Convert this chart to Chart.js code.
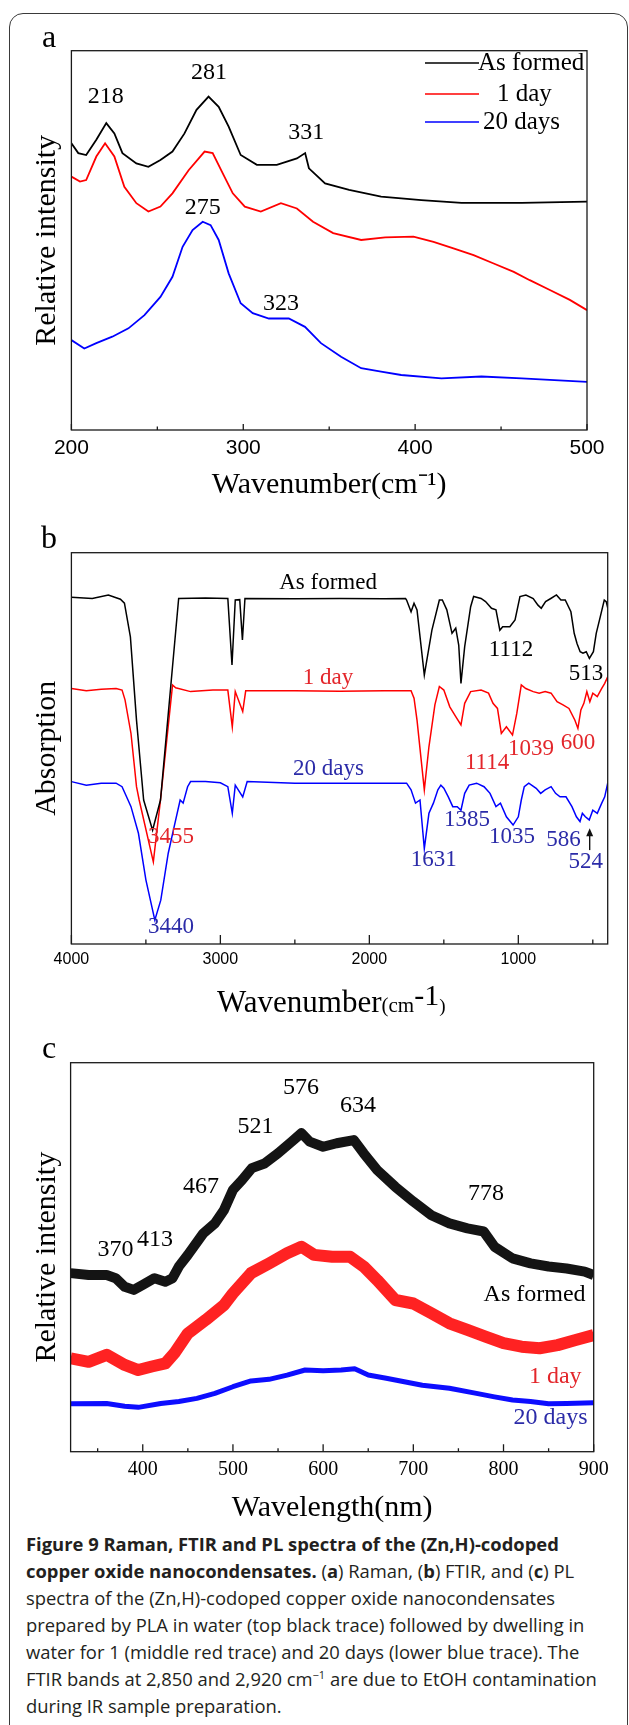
<!DOCTYPE html>
<html><head><meta charset="utf-8">
<script src="https://cdn.jsdelivr.net/npm/chart.js@4.4.1/dist/chart.umd.min.js"></script>
<style>
html,body{margin:0;padding:0;background:#fff;}
body{width:629px;height:1725px;position:relative;overflow:hidden;}
canvas{position:absolute;left:0;}
#frame{position:absolute;left:9px;top:13px;width:619px;height:1760px;border:1.5px solid #3a3a3a;border-radius:14px;box-sizing:border-box;}
.panel{position:absolute;font-family:'Liberation Serif','Times New Roman',serif;font-size:32px;line-height:32px;color:#000;}
.cap{position:absolute;left:26px;font-family:'Open Sans',sans-serif;font-size:18.4px;line-height:18.4px;white-space:nowrap;color:#231f20;}
.cap b{font-weight:700;}
</style></head><body>
<div id="frame"></div>
<canvas id="ca" width="629" height="510" style="top:0;width:629px;height:510px"></canvas>
<canvas id="cb" width="629" height="510" style="top:510px;width:629px;height:510px"></canvas>
<canvas id="cc" width="629" height="510" style="top:1020px;width:629px;height:510px"></canvas>
<div class="panel" style="left:42px;top:20px">a</div>
<div class="panel" style="left:41px;top:521px">b</div>
<div class="panel" style="left:42px;top:1031px">c</div>
<div class="cap" style="top:1535px"><b>Figure 9 Raman, FTIR and PL spectra of the (Zn,H)-codoped</b></div>
<div class="cap" style="top:1562px"><b>copper oxide nanocondensates.</b> (<b>a</b>) Raman, (<b>b</b>) FTIR, and (<b>c</b>) PL</div>
<div class="cap" style="top:1589px">spectra of the (Zn,H)-codoped copper oxide nanocondensates</div>
<div class="cap" style="top:1616px">prepared by PLA in water (top black trace) followed by dwelling in</div>
<div class="cap" style="top:1643px">water for 1 (middle red trace) and 20 days (lower blue trace). The</div>
<div class="cap" style="top:1670px">FTIR bands at 2,850 and 2,920 cm<sup style="font-size:11px;line-height:0">−1</sup> are due to EtOH contamination</div>
<div class="cap" style="top:1697px">during IR sample preparation.</div>
<script>
// ---------- (a) Raman ----------
const ramanBlackX = [200,204,208.6,214.5,220.3,225,229.7,237.8,244.8,251.8,258.8,265.8,272.8,279.8,285.7,291.5,298.5,307.9,319.5,331.2,336,338.2,347.6,361.6,380.2,403.6,427,462,500];
const ramanBlackY = [75.6,73,72.5,76.5,80.9,78.2,73,70.3,69.4,71.2,73.4,78.2,84.4,87.9,85.2,80,72.5,69.9,69.9,71.6,73,69,65,63.3,61.5,60.6,59.9,59.9,60.2];
const ramanRedX = [200,205,208.6,214.5,219.6,225,230.8,237.8,244.8,251.8,258.8,268.2,277.5,282.2,288,293.9,300.9,310.2,321.9,331.2,340.6,352.3,368.6,382.6,399,410.7,422.3,434,445.7,457.4,466.7,478.4,490,500];
const ramanRedY = [66.8,65.5,65.9,72.1,75.6,72.1,64.1,59.8,57.6,58.9,62.4,68.5,73.4,73,67.7,62.4,58.9,57.6,59.8,58.4,54.9,51.9,50.1,50.8,51,49.6,47.9,46.1,43.9,41.7,39.5,36.9,34.3,31.6];
const ramanBlueX = [200,207.5,214.5,223.8,233.2,242.5,251.8,258.8,264.7,270.5,276.4,281,285.7,291.5,298.5,305.5,314.9,326.5,335.9,345.2,356.9,368.6,380.2,391.9,415.3,438.6,462,500];
const ramanBlueY = [23.7,21.5,22.9,24.6,26.8,30.3,35.1,40.4,48.3,52.7,54.9,54,50.1,41.3,33.4,30.8,29.4,29.4,27.2,22.9,19.3,16.3,15.4,14.5,13.6,14.1,13.6,12.7];
const ramanTicks = [200,300,400,500];
const ramanMinorTicks = [250,350,450];
const ramanSeriesNames = ['As formed','1 day','20 days'];
const ramanPeakText = ['218','281','331','275','323'];
const ramanPeakX = [220,280,336.6,276.4,322];
const ramanPeakY = [87.9,94.1,78.3,58.5,33.2];

// ---------- (b) FTIR ----------
const ftirBlackX = [4000,3860,3752,3671,3644,3604,3563,3515,3455,3402,3280,3100,2950,2922,2900,2870,2852,2835,2500,2200,1900,1757,1750,1720,1700,1680,1631,1580,1530,1510,1480,1445,1420,1400,1385,1360,1320,1300,1250,1220,1180,1150,1124,1105,1084,1057,1022,989,949,900,868,846,817,782,744,714,685,647,625,606,585,566,544,523,496,477,450,423,410,399];
const ftirBlackY = [88.6,88.3,89.2,88.1,87.1,78.5,57.2,36.8,29.1,36.8,88.3,88.4,88.3,71.3,87.9,88,77.7,88.3,88.2,88.3,88.2,88.3,87.9,84.9,87.1,85.4,68.7,80.2,87.9,87.9,85.4,79.4,80.7,76.4,66.6,76,86.2,88.8,88.3,87.5,85.8,85.4,80.2,81.1,81.1,81.1,82.8,88.8,89.2,88.3,86.6,85.8,87.5,88.3,89.2,87.9,87.9,84.9,79.4,76.8,74.7,74.3,74.7,73,74.7,79.4,83.6,87.9,87.5,85.8];
const ftirRedX = [4000,3900,3800,3700,3660,3640,3600,3563,3545,3450,3402,3321,3300,3200,3050,2950,2920,2900,2850,2830,2500,2200,1900,1720,1700,1680,1631,1600,1560,1530,1500,1460,1420,1385,1360,1320,1250,1200,1170,1140,1114,1080,1039,1010,980,950,900,860,820,780,740,700,660,620,600,580,560,540,520,500,470,440,420,400];
const ftirRedY = [65.3,64.7,65.1,65.3,64.9,62.4,53.8,40.2,36.8,21,36.8,66.2,65.5,64.5,64.9,64.9,55.5,64.5,59.4,64.7,64.7,64.6,64.7,64.7,62.8,57.2,39.4,50.4,61.1,65.8,64.9,60.6,58.1,56,61.5,64.5,64.9,64.1,61.5,60.2,53.8,55.5,53.4,59,66.2,65.3,64.5,64.1,64.5,64.1,61.9,61.1,60.2,57.2,55.1,59.8,61.5,64.5,61.9,64.1,63.2,65.3,66.6,68.3];
const ftirBlueX = [4000,3900,3800,3700,3660,3620,3600,3550,3500,3440,3400,3350,3300,3270,3250,3220,3200,3100,3000,2950,2920,2900,2850,2820,2500,2200,1900,1750,1720,1690,1660,1631,1600,1570,1540,1520,1500,1470,1440,1410,1385,1360,1330,1280,1230,1190,1150,1120,1080,1035,1000,980,960,930,880,850,820,780,750,720,680,640,610,586,570,550,524,500,470,440,420,400];
const ftirBlueY = [41.5,40.6,41.1,41.1,40.2,36.8,35.1,28.3,16.4,6.1,11.2,23.2,31.7,36.8,36,40.2,41.5,41.5,41.2,40.2,33.4,40.6,37.6,41.5,41.1,41.1,41.1,41.1,39.4,36,36.8,24.4,33.4,36,39.4,40.6,39.8,37.6,35.1,35.1,34.2,38.5,40.6,41.1,40.2,38.5,35.1,36,32.5,30.4,32.5,36.8,40.2,41.1,39.8,38.5,39.4,40.2,38.5,37.6,37.6,35.1,32.5,31.3,33.4,32.5,31.7,34.2,33.4,36,37.6,41.1];
const ftirTicks = [4000,3000,2000,1000];
const ftirMinorTicks = [3500,2500,1500,500];
const ftirNoteText = ['As formed','1112','513','1 day','1114','1039','600','20 days','1385','1035','586','524','1631','3455','3440'];
const ftirNoteX = [2277,1049,545,2277,1210,915,599,2274,1344,1042,696,548,1568,3331,3331];
const ftirNoteY = [92.3,75.1,69,68,46.3,49.8,51.4,44.7,31.7,27.3,26.6,21,21.5,27.3,4.3];
const ftirNoteColor = ['k','k','k','r','r','r','r','b','b','b','b','b','b','r','b'];
const ftirArrowX = 521;
const ftirArrowY = [24.0, 29.6];

// ---------- (c) PL ----------
const plBlackX = [320,340,360,370,380,390,400,413,425,433,440,450,467,480,490,500,510,521,535,550,565,576,585,600,615,634,645,660,680,700,720,740,760,778,790,810,830,850,870,890,900];
const plBlackY = [45.9,45.4,45.4,44.6,42.4,41.6,42.9,44.6,43.7,44.6,47.6,50.6,56.1,58.7,62.1,67.3,69.8,72.9,74.1,76.7,79.7,81.9,79.7,78.4,79.3,80.1,76.7,72.4,68.1,64.3,60.8,58.7,57.4,56.6,52.7,49.7,48.4,47.6,47.1,46.3,45.4];
const plRedX = [320,340,360,380,395,410,425,435,450,470,490,500,520,540,560,576,590,610,630,645,660,680,700,720,740,760,780,800,820,840,860,880,900];
const plRedY = [24,23.1,24.9,22.3,21,21.9,22.7,25.3,30.4,33.9,37.7,40.7,45.9,48.4,51,52.7,50.6,50.1,50.1,47.6,44.1,39,38.1,35.6,33,31.3,29.6,27.9,27,26.6,27.4,28.7,30];
const plBlueX = [320,360,380,395,420,440,460,480,500,520,540,560,580,600,620,635,650,670,690,710,740,770,790,810,830,850,870,900];
const plBlueY = [12.3,12.4,11.7,11.4,12.4,12.9,13.7,15,16.7,18.2,18.6,19.7,21,20.8,21,21.3,19.7,18.9,18,17.1,16.3,15,14.1,13.3,12.9,12.3,12.4,12.6];
const plTicks = [400,500,600,700,800,900];
const plMinorTicks = [350,450,550,650,750,850];
const plNoteText = ['576','634','521','467','778','370','413','As formed','1 day','20 days'];
const plNoteX = [575.5,638.7,525,464.6,780.6,369.8,413.6,891,886.6,893.2];
const plNoteY = [93.5,88.9,83.5,68.1,66.2,51.9,54.4,40.3,19.3,8.7];
const plNoteColor = ['k','k','k','k','k','k','k','k','r','b'];
const plNoteAlign = ['center','center','center','center','center','center','center','right','right','right'];

// ---------- helpers ----------
const SERIF = "'Liberation Serif','Times New Roman',serif";
const SANS = "'Liberation Sans',Arial,sans-serif";
const TXT = {k:'#000000', r:'#e3262b', b:'#2b2ba8'};
const LINE = ['#000000','#ff0000','#0000ff'];
const pts = (xs, ys) => xs.map((x, i) => ({x, y: ys[i]}));

const framePlugin = {
  id: 'frameTicks',
  afterDatasetsDraw(chart, args, o) {
    const {ctx, chartArea: a} = chart;
    const sx = chart.scales.x;
    ctx.save();
    ctx.strokeStyle = '#1a1a1a';
    ctx.lineWidth = 1.3;
    ctx.strokeRect(a.left, a.top, a.right - a.left, a.bottom - a.top);
    ctx.beginPath();
    (o.major || []).forEach(v => { const p = sx.getPixelForValue(v); ctx.moveTo(p, a.bottom); ctx.lineTo(p, a.bottom - o.majorLen); });
    (o.minor || []).forEach(v => { const p = sx.getPixelForValue(v); ctx.moveTo(p, a.bottom); ctx.lineTo(p, a.bottom - o.minorLen); });
    ctx.stroke();
    ctx.restore();
  }
};

const notesPlugin = {
  id: 'notes',
  afterDatasetsDraw(chart, args, o) {
    const {ctx} = chart;
    const sx = chart.scales.x, sy = chart.scales.y;
    ctx.save();
    ctx.textBaseline = 'middle';
    (o.items || []).forEach(it => {
      ctx.font = it.font;
      ctx.fillStyle = it.color;
      ctx.textAlign = it.align || 'center';
      ctx.fillText(it.text, sx.getPixelForValue(it.x), sy.getPixelForValue(it.y));
    });
    if (o.arrow) {
      const px = sx.getPixelForValue(o.arrow.x);
      const y0 = sy.getPixelForValue(o.arrow.y[0]);
      const y1 = sy.getPixelForValue(o.arrow.y[1]);
      ctx.strokeStyle = '#111'; ctx.fillStyle = '#111'; ctx.lineWidth = 1.4;
      ctx.beginPath(); ctx.moveTo(px, y0); ctx.lineTo(px, y1 + 4); ctx.stroke();
      ctx.beginPath(); ctx.moveTo(px, y1); ctx.lineTo(px - 3.5, y1 + 8); ctx.lineTo(px + 3.5, y1 + 8); ctx.closePath(); ctx.fill();
    }
    if (o.legend) {
      const L = o.legend;
      L.names.forEach((n, i) => {
        const y = L.ys[i];
        ctx.strokeStyle = LINE[i]; ctx.lineWidth = 1.6;
        ctx.beginPath(); ctx.moveTo(L.x0, y); ctx.lineTo(L.x1, y); ctx.stroke();
        ctx.font = '25px ' + SERIF; ctx.fillStyle = '#000'; ctx.textAlign = 'left';
        ctx.fillText(n, L.tx[i], y);
      });
    }
    if (o.xtitle) {
      const t = o.xtitle;
      let x = t.x;
      t.parts.forEach(p => {
        ctx.font = p.size + 'px ' + SERIF; ctx.fillStyle = '#000'; ctx.textAlign = 'left'; ctx.textBaseline = 'alphabetic';
        ctx.fillText(p.s, x, t.base + (p.dy || 0));
        x += ctx.measureText(p.s).width;
      });
    }
    ctx.restore();
  }
};

function makeChart(id, cfg) {
  return new Chart(document.getElementById(id), {
    type: 'line',
    data: {datasets: cfg.datasets},
    plugins: [framePlugin, notesPlugin],
    options: {
      responsive: false, animation: false, devicePixelRatio: 1,
      events: [],
      layout: {padding: cfg.padding},
      elements: {point: {radius: 0}, line: {tension: 0}},
      plugins: {
        legend: {display: false}, tooltip: {enabled: false},
        frameTicks: cfg.frame,
        notes: cfg.notes
      },
      scales: {
        x: {
          type: 'linear', min: cfg.xmin, max: cfg.xmax, reverse: !!cfg.reverse,
          grid: {display: false, drawTicks: false}, border: {display: false},
          afterBuildTicks: s => { s.ticks = cfg.ticks.map(v => ({value: v})); },
          afterFit: s => { s.height = cfg.xh; },
          ticks: {autoSkip: false, maxRotation: 0, color: '#000', padding: cfg.tickPad, font: cfg.tickFont,
                  callback: v => String(v)},
          title: cfg.xtitle
        },
        y: {
          type: 'linear', min: 0, max: 100,
          grid: {display: false, drawTicks: false}, border: {display: false},
          ticks: {display: false},
          afterFit: s => { s.width = cfg.yw; },
          title: {display: true, text: cfg.ytitle, color: '#000', font: {family: SERIF, size: 30}, padding: {top: 29, bottom: 29}}
        }
      }
    }
  });
}

// Panel a
makeChart('ca', {
  datasets: [
    {data: pts(ramanBlackX, ramanBlackY), borderColor: LINE[0], borderWidth: 1.8},
    {data: pts(ramanRedX, ramanRedY), borderColor: LINE[1], borderWidth: 1.8},
    {data: pts(ramanBlueX, ramanBlueY), borderColor: LINE[2], borderWidth: 1.8}
  ],
  padding: {left: 0, top: 50.7, right: 42, bottom: 0},
  xmin: 200, xmax: 500, ticks: ramanTicks, xh: 80, yw: 71.4,
  tickPad: 5.9, tickFont: {family: SANS, size: 21},
  xtitle: {display: true, text: 'Wavenumber(cm⁻¹)', color: '#000', font: {family: SERIF, size: 30}, padding: {top: 7, bottom: 7}},
  ytitle: 'Relative intensity',
  frame: {major: ramanTicks, minor: ramanMinorTicks, majorLen: 6, minorLen: 3.5},
  notes: {
    items: ramanPeakText.map((t, i) => ({text: t, x: ramanPeakX[i], y: ramanPeakY[i], color: '#000', font: '24px ' + SERIF})),
    legend: {names: ramanSeriesNames, x0: 425, x1: 479, ys: [63, 94, 122], tx: [478, 497, 483]}
  }
});

// Panel b
makeChart('cb', {
  datasets: [
    {data: pts(ftirBlackX, ftirBlackY), borderColor: LINE[0], borderWidth: 1.5},
    {data: pts(ftirRedX, ftirRedY), borderColor: LINE[1], borderWidth: 1.5},
    {data: pts(ftirBlueX, ftirBlueY), borderColor: LINE[2], borderWidth: 1.5}
  ],
  padding: {left: 0, top: 42.7, right: 21.3, bottom: 0},
  xmin: 400, xmax: 4000, reverse: true, ticks: ftirTicks, xh: 76, yw: 71.4,
  tickPad: 6.4, tickFont: {family: SANS, size: 16},
  xtitle: {display: false},
  ytitle: 'Absorption',
  frame: {major: ftirTicks, minor: ftirMinorTicks, majorLen: 9, minorLen: 4.5},
  notes: {
    items: ftirNoteText.map((t, i) => ({text: t, x: ftirNoteX[i], y: ftirNoteY[i], color: TXT[ftirNoteColor[i]], font: '23px ' + SERIF})),
    arrow: {x: ftirArrowX, y: ftirArrowY},
    xtitle: {x: 217, base: 501.5, parts: [
      {s: 'Wavenumber', size: 31},
      {s: '(cm', size: 21},
      {s: '-1', size: 30, dy: -7},
      {s: ')', size: 19}
    ]}
  }
});

// Panel c
makeChart('cc', {
  datasets: [
    {data: pts(plBlackX, plBlackY), borderColor: 'rgba(0,0,0,0.92)', borderWidth: 10, borderJoinStyle: 'round'},
    {data: pts(plRedX, plRedY), borderColor: 'rgba(255,10,10,0.9)', borderWidth: 12, borderJoinStyle: 'round'},
    {data: pts(plBlueX, plBlueY), borderColor: 'rgba(0,0,255,0.95)', borderWidth: 5, borderJoinStyle: 'round'}
  ],
  padding: {left: 0, top: 42.7, right: 35.3, bottom: 0},
  xmin: 320, xmax: 900, ticks: plTicks, xh: 78.3, yw: 70.6,
  tickPad: 6.3, tickFont: {family: SERIF, size: 20},
  xtitle: {display: true, text: 'Wavelength(nm)', color: '#000', font: {family: SERIF, size: 30}, padding: {top: 4, bottom: 4}},
  ytitle: 'Relative intensity',
  frame: {major: plTicks, minor: plMinorTicks, majorLen: 7.5, minorLen: 3.5},
  notes: {
    items: plNoteText.map((t, i) => ({text: t, x: plNoteX[i], y: plNoteY[i], color: TXT[plNoteColor[i]], align: plNoteAlign[i], font: '24px ' + SERIF}))
  }
});
</script>
</body></html>
